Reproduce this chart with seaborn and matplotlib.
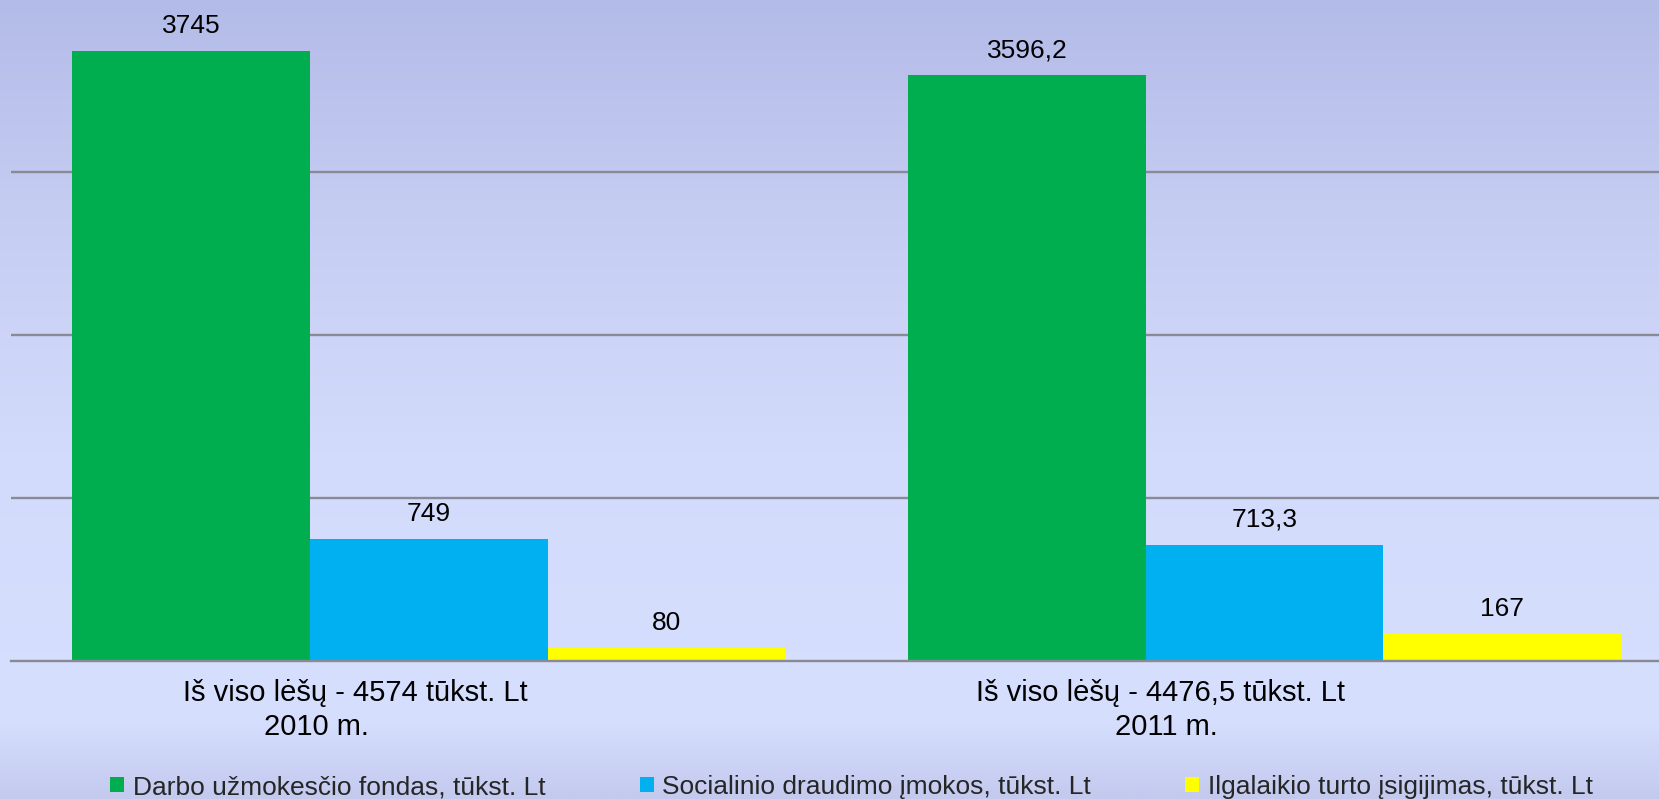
import numpy as np
import pandas as pd
import matplotlib
matplotlib.use("Agg")
import matplotlib.pyplot as plt
import matplotlib.transforms as mtransforms
from matplotlib.colors import LinearSegmentedColormap
from matplotlib.patches import Patch
import seaborn as sns

# ---- data ----
years = ["2010 m.", "2011 m."]
totals_line = ["Iš viso lėšų - 4574 tūkst. Lt", "Iš viso lėšų - 4476,5 tūkst. Lt"]
series = ["Darbo užmokesčio fondas, tūkst. Lt",
          "Socialinio draudimo įmokos, tūkst. Lt",
          "Ilgalaikio turto įsigijimas, tūkst. Lt"]
wages = [3745, 3596.2]
social = [749, 713.3]
assets = [80, 167]
colors = ["#00AE4F", "#00B0F0", "#FFFF00"]
grid_ticks = [1000, 2000, 3000]

sns.set_theme(style="white")
plt.rcParams["font.family"] = ["Liberation Sans", "DejaVu Sans"]

rows = []
for s, vals in zip(series, [wages, social, assets]):
    for y, v in zip(years, vals):
        rows.append({"year": y, "series": s, "value": v})
df = pd.DataFrame(rows)

W, H = 1659, 799
fig = plt.figure(figsize=(W / 100, H / 100), dpi=100)

# gradient background
bg = fig.add_axes([0, 0, 1, 1], zorder=-10)
stops = [(0.0, "#b3bbe8"), (200 / 799, "#c5ccf2"), (450 / 799, "#d3dbfc"),
         (720 / 799, "#d7dfff"), (1.0, "#c3caee")]
cmap = LinearSegmentedColormap.from_list("bgg", stops)
grad = np.linspace(0, 1, 800).reshape(-1, 1)
bg.imshow(grad, aspect="auto", cmap=cmap, extent=[0, 1, 1, 0])
bg.set_xlim(0, 1)
bg.set_ylim(1, 0)
bg.axis("off")

ax_left = 11 / W
ax_bottom = (H - 661) / H
ax = fig.add_axes([ax_left, ax_bottom, 1 - ax_left, 1 - ax_bottom], zorder=1)
ax.patch.set_alpha(0)

sns.barplot(data=df, x="year", y="value", hue="series", order=years,
            hue_order=series, palette=colors, saturation=1, width=0.853,
            linewidth=0, ax=ax, legend=False, errorbar=None, zorder=3)

px_per_unit = 610 / 3745
ax.set_ylim(0, 661 / px_per_unit)
ax.set_xlim(-0.5, 1.472)
ax.set_yticks(grid_ticks)
ax.set_yticklabels([])
ax.set_xticks([])
ax.set_xlabel("")
ax.set_ylabel("")
ax.tick_params(length=0)
ax.yaxis.grid(True, color="#8a8a94", linewidth=1.7, zorder=0)
ax.set_axisbelow(True)
for side in ["top", "right", "left"]:
    ax.spines[side].set_visible(False)
ax.spines["bottom"].set_color("#8a8a94")
ax.spines["bottom"].set_linewidth(1.7)
ax.spines["bottom"].set_zorder(4)

for cont in ax.containers:
    labels = [("%g" % b.get_height()).replace(".", ",") for b in cont]
    ax.bar_label(cont, labels=labels, padding=9.5, fontsize=19, color="#000000")

# category labels (two lines)
trans = mtransforms.blended_transform_factory(ax.transData, fig.transFigure)
line1_off = [-0.088, -0.125]
line2_off = [-0.135, -0.118]
for i in range(len(years)):
    ax.text(i + line1_off[i], (H - 701) / H, totals_line[i], transform=trans,
            ha="center", va="baseline", fontsize=21, color="#000000")
    ax.text(i + line2_off[i], (H - 735) / H, years[i], transform=trans,
            ha="center", va="baseline", fontsize=21, color="#000000")

handles = [Patch(facecolor=c, edgecolor="none", label=s) for c, s in zip(colors, series)]
fig.legend(handles=handles, ncol=3, loc="lower left",
           bbox_to_anchor=(110 / W, 0 / H), frameon=False, borderpad=0,
           borderaxespad=0, handlelength=0.53, handleheight=0.53,
           handletextpad=0.34, columnspacing=3.56, fontsize=19)

fig.savefig("out.png", dpi=100)
